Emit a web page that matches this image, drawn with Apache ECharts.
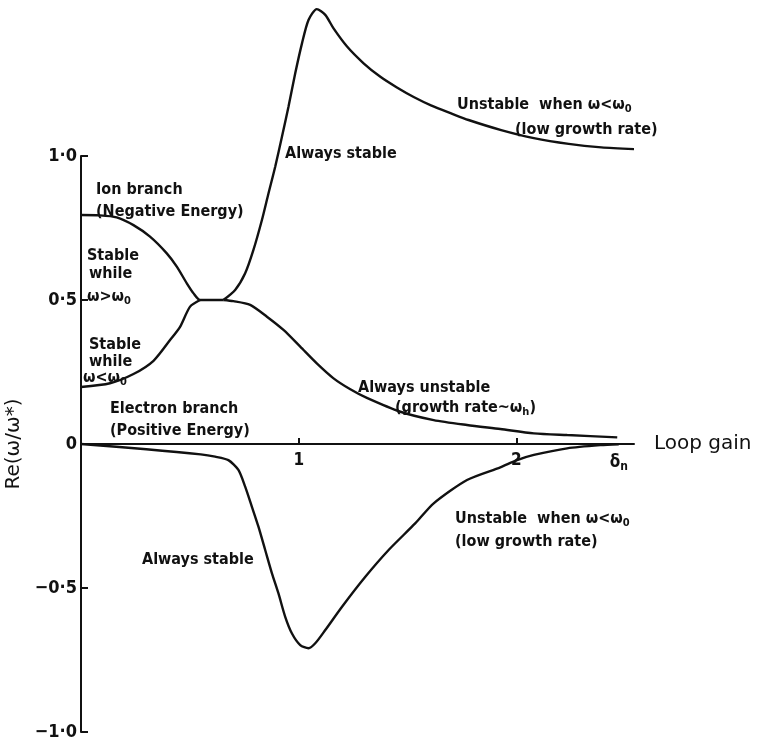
<!DOCTYPE html>
<html><head><meta charset="utf-8">
<script src="https://cdn.jsdelivr.net/npm/echarts@6/dist/echarts.min.js"></script>
<style>html,body{margin:0;padding:0;background:#fff}#c{width:757px;height:746px}</style>
</head><body><div id="c"></div>
<script>
// ---- data ----
const ionBranch = [[0,0.795],[0.087,0.794],[0.164,0.787],[0.241,0.760],[0.317,0.720],[0.394,0.662],[0.44,0.616],[0.486,0.558],[0.517,0.523],[0.547,0.5],[0.654,0.5]];
const electronBranch = [[0,0.198],[0.133,0.211],[0.241,0.243],[0.333,0.289],[0.409,0.361],[0.455,0.407],[0.501,0.477],[0.547,0.5]];
const stableRise = [[0.654,0.5],[0.708,0.535],[0.754,0.593],[0.792,0.674],[0.831,0.778],[0.861,0.87],[0.892,0.963],[0.923,1.067],[0.953,1.171],[0.984,1.287],[1.015,1.391],[1.045,1.472],[1.083,1.51],[1.122,1.49],[1.16,1.443],[1.222,1.38],[1.298,1.322],[1.375,1.275],[1.451,1.238],[1.528,1.205],[1.61,1.175],[1.70,1.148],[1.78,1.125],[1.93,1.09],[2.08,1.062],[2.24,1.042],[2.39,1.03],[2.54,1.024]];
const unstableFall = [[0.654,0.5],[0.70,0.496],[0.777,0.483],[0.854,0.442],[0.93,0.396],[1.007,0.338],[1.083,0.28],[1.16,0.228],[1.237,0.19],[1.313,0.16],[1.467,0.112],[1.62,0.083],[1.773,0.066],[1.926,0.052],[2.08,0.037],[2.233,0.031],[2.463,0.023]];
const negativeBranch = [[0,0],[0.3,-0.018],[0.55,-0.036],[0.616,-0.044],[0.677,-0.056],[0.723,-0.09],[0.754,-0.148],[0.785,-0.218],[0.815,-0.287],[0.846,-0.368],[0.877,-0.449],[0.907,-0.519],[0.938,-0.6],[0.969,-0.658],[1.007,-0.698],[1.045,-0.709],[1.076,-0.692],[1.122,-0.646],[1.199,-0.565],[1.306,-0.461],[1.413,-0.368],[1.536,-0.275],[1.62,-0.206],[1.773,-0.125],[1.926,-0.081],[2.003,-0.056],[2.08,-0.038],[2.233,-0.015],[2.386,-0.004],[2.47,-0.001]];
const yTickValues = [-1,-0.5,0,0.5,1];
const yTickLabels = ['\u22121\u00b70','\u22120\u00b75','0','0\u00b75','1\u00b70'];
const xTickValues = [1,2,2.47];
const xTickLabels = ['1','2','\u03b4{sub|n}'];
const xTickMarks = [1,2];

const LET = '"DejaVu Sans Condensed","DejaVu Sans",sans-serif';
const chart = echarts.init(document.getElementById('c'), null, {renderer:'canvas'});
const lineS = (name, data) => ({name, type:'line', data, smooth:0.25, showSymbol:false, clip:false,
  lineStyle:{color:'#111', width:2.4}, silent:true, z:3});

function txt(x, y, text) {
  return {type:'text', left:x, top:y, style:{text, font:'bold 16px '+LET, fill:'#111', verticalAlign:'middle',
    rich:{sub:{font:'bold 11px '+LET, fill:'#111', padding:[9,0,0,0]}}}};
}

chart.setOption({
  animation:false,
  backgroundColor:'#fff',
  grid:{left:81, right:123, top:156, bottom:14, containLabel:false, outerBoundsMode:'none'},
  xAxis:{type:'value', min:0, max:2.54,
    axisLine:{onZero:true, lineStyle:{color:'#111', width:2}},
    axisTick:{show:true, inside:true, length:6, customValues:xTickMarks, lineStyle:{color:'#111', width:2}},
    axisLabel:{show:false},
    splitLine:{show:false},
    name:'Loop gain', nameLocation:'end', nameGap:20,
    nameTextStyle:{color:'#111', fontFamily:'"DejaVu Sans",sans-serif', fontSize:20, verticalAlign:'middle'}
  },
  yAxis:{type:'value', min:-1, max:1, interval:0.5,
    axisLine:{show:true, lineStyle:{color:'#111', width:2}},
    axisTick:{show:true, inside:true, length:7, lineStyle:{color:'#111', width:2}},
    axisLabel:{margin:4, color:'#111', fontFamily:LET, fontWeight:'bold', fontSize:18,
      formatter:v=>{const i=yTickValues.indexOf(Math.round(v*100)/100);return i>=0?yTickLabels[i]:'';}},
    splitLine:{show:false},
    name:'Re(\u03c9/\u03c9*)', nameLocation:'middle', nameRotate:90, nameGap:48,
    nameTextStyle:{color:'#111', fontFamily:'"DejaVu Sans",sans-serif', fontSize:20}
  },
  series:[
    lineS('Ion branch', ionBranch),
    lineS('Electron branch', electronBranch),
    lineS('Always stable (upper)', stableRise),
    lineS('Always unstable', unstableFall),
    lineS('Always stable (lower)', negativeBranch),
    {name:'x tick labels', type:'scatter', data:xTickValues.map(v=>[v,0]), symbolSize:0.01,
      itemStyle:{color:'#111'}, silent:true, clip:false, z:4,
      label:{show:true, position:'bottom', distance:8, color:'#111', opacity:1, textBorderWidth:0,
        fontFamily:LET, fontWeight:'bold', fontSize:17,
        formatter:p=>xTickLabels[p.dataIndex],
        rich:{sub:{fontFamily:LET, fontWeight:'bold', fontSize:12, color:'#111', padding:[9,0,0,0]}}}}
  ],
  graphic:[
    txt(96,182,'Ion branch'),
    txt(96,204,'(Negative Energy)'),
    txt(87,248,'Stable'),
    txt(89,266,'while'),
    txt(87,289,'\u03c9>\u03c9{sub|0}'),
    txt(89,337,'Stable'),
    txt(89,354,'while'),
    txt(83,370,'\u03c9<\u03c9{sub|0}'),
    txt(110,401,'Electron branch'),
    txt(110,423,'(Positive Energy)'),
    txt(285,146,'Always stable'),
    txt(457,97,'Unstable  when \u03c9<\u03c9{sub|0}'),
    txt(515,122,'(low growth rate)'),
    txt(358,380,'Always unstable'),
    txt(395,400,'(growth rate~\u03c9{sub|h})'),
    txt(455,511,'Unstable  when \u03c9<\u03c9{sub|0}'),
    txt(455,534,'(low growth rate)'),
    txt(142,552,'Always stable')
  ]
});
</script></body></html>
